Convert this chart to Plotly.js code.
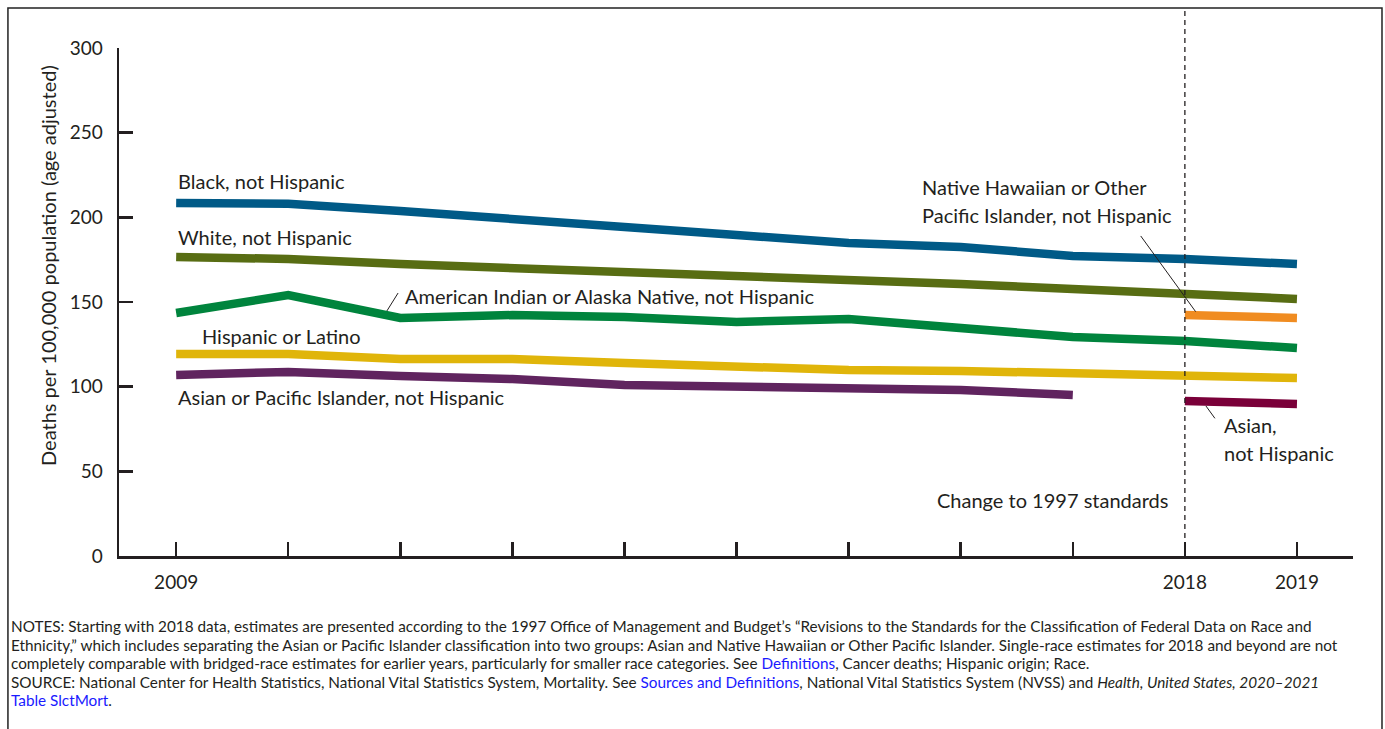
<!DOCTYPE html>
<html>
<head>
<meta charset="utf-8">
<script src="https://cdn.plot.ly/plotly-3.0.1.min.js"></script>
<style>
  html, body { margin: 0; padding: 0; background: #fff; }
  #chart { width: 1385px; height: 729px; }
</style>
</head>
<body>
<div id="chart"></div>
<script>
// years on the x axis
const years = [2009, 2010, 2011, 2012, 2013, 2014, 2015, 2016, 2017, 2018, 2019];
const yearsBridged = [2009, 2010, 2011, 2012, 2013, 2014, 2015, 2016, 2017];
const yearsNew = [2018, 2019];
const yearLabels = ['2009', '', '', '', '', '', '', '', '', '2018', '2019'];

// deaths per 100,000 (age adjusted)
const black = [208.5, 208, 203.7, 198.4, 194.3, 189.6, 184.8, 182.5, 177.2, 175.4, 172.4];
const white = [176.6, 175.4, 172.4, 170.1, 167.7, 165.9, 163.6, 160.6, 157.7, 154.7, 151.8];
const aian = [143.5, 154.1, 140.6, 142.3, 141.1, 138.2, 140, 134.6, 129.3, 127, 122.8];
const hispanic = [119.3, 119.3, 116.3, 116.3, 114, 112.2, 109.8, 109.3, 107.5, 106.9, 105.1];
const api = [106.9, 108.7, 106.3, 104.5, 101, 99.8, 99.8, 98, 95.1];
const nhopi = [142.3, 140.6];
const asian = [91.5, 89.8];

// notes under the chart, one entry per printed line
const BLUE = '#1a1aff';
const noteLines = [
  'NOTES: Starting with 2018 data, estimates are presented according to the 1997 Office of Management and Budget\u2019s \u201cRevisions to the Standards for the Classification of Federal Data on Race and',
  'Ethnicity,\u201d which includes separating the Asian or Pacific Islander classification into two groups: Asian and Native Hawaiian or Other Pacific Islander. Single-race estimates for 2018 and beyond are not',
  'completely comparable with bridged-race estimates for earlier years, particularly for smaller race categories. See <span style="color:' + BLUE + '">Definitions</span>, Cancer deaths; Hispanic origin; Race.',
  'SOURCE: National Center for Health Statistics, National Vital Statistics System, Mortality. See <span style="color:' + BLUE + '">Sources and Definitions</span>, National Vital Statistics System (NVSS) and <i>Health, United States, 2020\u20132021</i>',
  '<span style="color:' + BLUE + '">Table SlctMort</span>.',
];

const FONT = 'Lato, "Open Sans", sans-serif';
const INK = '#231f20';
const LW = 8.5;

function line(x, y, color, name) {
  return {x, y, name, type: 'scatter', mode: 'lines',
    line: {color, width: LW}, hoverinfo: 'x+y', showlegend: false};
}

var data = [
  line(years, black, '#005a87', 'Black, not Hispanic'),
  line(years, white, '#586d13', 'White, not Hispanic'),
  line(years, aian, '#00843d', 'American Indian or Alaska Native, not Hispanic'),
  line(years, hispanic, '#e0b50a', 'Hispanic or Latino'),
  line(yearsBridged, api, '#60245f', 'Asian or Pacific Islander, not Hispanic'),
  line(yearsNew, nhopi, '#f08c21', 'Native Hawaiian or Other Pacific Islander, not Hispanic'),
  line(yearsNew, asian, '#7a0039', 'Asian, not Hispanic'),
];

function label(text, x, y, anchor) {
  return {text, x, y, xref: 'x', yref: 'y', showarrow: false,
    xanchor: anchor || 'left', yanchor: 'middle',
    font: {family: FONT, size: 20, color: INK}};
}

var annotations = [
  label('Black, not Hispanic', 2009.0, 221.5),
  label('White, not Hispanic', 2009.0, 188.4),
  label('American Indian or Alaska Native, not Hispanic', 2011.02, 153.5),
  label('Hispanic or Latino', 2009.21, 129.9),
  label('Asian or Pacific Islander, not Hispanic', 2009.0, 93.9),
  label('Native Hawaiian or Other', 2015.64, 217.9),
  label('Pacific Islander, not Hispanic', 2015.64, 201.4),
  label('Asian,', 2018.33, 77.4),
  label('not Hispanic', 2018.33, 60.8),
  label('Change to 1997 standards', 2017.87, 33.1, 'right'),
  {text: 'Deaths per 100,000 population (age adjusted)', xref: 'paper', yref: 'paper',
    x: -0.0575, y: 0.571, textangle: -90, showarrow: false,
    xanchor: 'center', yanchor: 'middle',
    font: {family: FONT, size: 20, color: INK}},
];
noteLines.forEach(function(t, i) {
  annotations.push({text: t, xref: 'paper', yref: 'paper',
    x: -0.089, y: (556 - (626 + i * 18.5)) / 508,
    xanchor: 'left', yanchor: 'middle', align: 'left', showarrow: false,
    font: {family: FONT, size: 15.3, color: INK}});
});

var layout = {
  width: 1385,
  height: 729,
  margin: {l: 119, r: 32, t: 48, b: 173},
  paper_bgcolor: '#fff',
  plot_bgcolor: '#fff',
  font: {family: FONT, color: INK, size: 18},
  xaxis: {
    range: [2008.49, 2019.5],
    tickvals: years,
    ticktext: yearLabels,
    ticks: 'inside', ticklen: 14, tickwidth: 2.5, tickcolor: INK,
    showline: true, linecolor: INK, linewidth: 2.5,
    showgrid: false, zeroline: false,
    ticklabelstandoff: 8,
    tickfont: {family: FONT, size: 19, color: INK},
  },
  yaxis: {
    range: [0, 300],
    tickvals: [0, 50, 100, 150, 200, 250, 300],
    ticks: 'inside', ticklen: 14, tickwidth: 2.5, tickcolor: INK,
    showline: true, linecolor: INK, linewidth: 2.5,
    showgrid: false, zeroline: false,
    ticklabelstandoff: 10,
    tickfont: {family: FONT, size: 19, color: INK},
  },
  shapes: [
    // border round the figure
    {type: 'rect', xref: 'paper', yref: 'paper', x0: -0.09, x1: 1.0235, y0: -0.4, y1: 1.0787,
      line: {color: '#222', width: 1.5}},
    // 1997 standards divider
    {type: 'line', xref: 'x', yref: 'paper', x0: 2018, x1: 2018, y0: 0, y1: 1.074,
      line: {color: INK, width: 1.3, dash: '5px,4px'}},
    // leader lines
    {type: 'line', xref: 'x', yref: 'y', x0: 2010.88, y0: 144.7, x1: 2010.98, y1: 155.3,
      line: {color: INK, width: 1}},
    {type: 'line', xref: 'x', yref: 'y', x0: 2017.606, y0: 189.0, x1: 2018.096, y1: 144.3,
      line: {color: INK, width: 1}},
    {type: 'line', xref: 'x', yref: 'y', x0: 2018.188, y0: 88.6, x1: 2018.268, y1: 81.3,
      line: {color: INK, width: 1}},
  ],
  annotations: annotations,
};

Plotly.newPlot('chart', data, layout, {displayModeBar: false, staticPlot: true});
</script>
</body>
</html>
